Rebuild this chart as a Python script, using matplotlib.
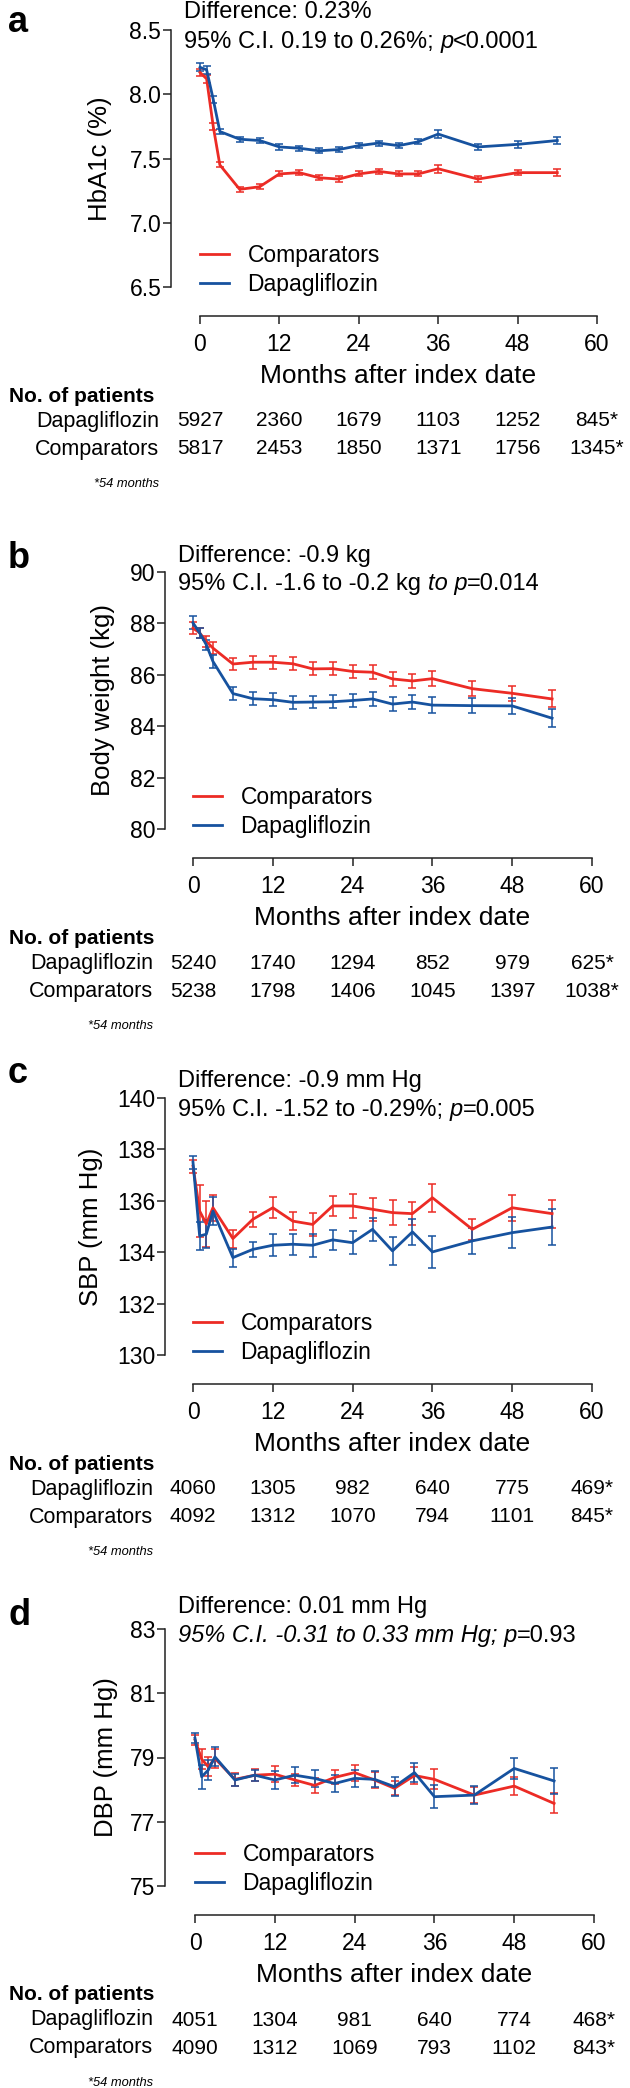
import matplotlib
matplotlib.use('Agg')
import matplotlib.pyplot as plt

plt.rcParams['font.family'] = ['Liberation Sans', 'DejaVu Sans']

months = [0, 1, 2, 3, 6, 9, 12, 15, 18, 21, 24, 27, 30, 33, 36, 42, 48, 54]
table_months = [0, 12, 24, 36, 48, 60]

# a: HbA1c
hba1c_comp = [8.17, 8.12, 7.75, 7.45, 7.26, 7.28, 7.38, 7.39, 7.35, 7.34, 7.38, 7.40, 7.38, 7.38, 7.42, 7.34, 7.39, 7.39]
hba1c_comp_err = [0.03, 0.03, 0.03, 0.02, 0.02, 0.02, 0.02, 0.02, 0.02, 0.02, 0.02, 0.02, 0.02, 0.02, 0.03, 0.02, 0.02, 0.03]
hba1c_dapa = [8.21, 8.19, 7.96, 7.71, 7.65, 7.64, 7.59, 7.58, 7.56, 7.57, 7.60, 7.62, 7.60, 7.63, 7.69, 7.59, 7.61, 7.64]
hba1c_dapa_err = [0.03, 0.03, 0.03, 0.02, 0.02, 0.02, 0.02, 0.02, 0.02, 0.02, 0.02, 0.02, 0.02, 0.02, 0.03, 0.02, 0.03, 0.03]
hba1c_n_dapa = ['5927', '2360', '1679', '1103', '1252', '845*']
hba1c_n_comp = ['5817', '2453', '1850', '1371', '1756', '1345*']

# b: body weight
weight_comp = [87.82, 87.63, 87.30, 87.04, 86.42, 86.49, 86.49, 86.43, 86.23, 86.24, 86.13, 86.10, 85.84, 85.76, 85.85, 85.46, 85.28, 85.06]
weight_comp_err = [0.25, 0.2, 0.2, 0.22, 0.25, 0.25, 0.25, 0.25, 0.25, 0.25, 0.27, 0.27, 0.28, 0.28, 0.28, 0.3, 0.3, 0.33]
weight_dapa = [88.02, 87.63, 87.17, 86.52, 85.27, 85.07, 85.03, 84.93, 84.94, 84.95, 85.00, 85.06, 84.86, 84.94, 84.82, 84.80, 84.79, 84.31]
weight_dapa_err = [0.25, 0.2, 0.2, 0.25, 0.25, 0.25, 0.25, 0.25, 0.25, 0.26, 0.27, 0.27, 0.28, 0.29, 0.3, 0.3, 0.3, 0.35]
weight_n_dapa = ['5240', '1740', '1294', '852', '979', '625*']
weight_n_comp = ['5238', '1798', '1406', '1045', '1397', '1038*']

# c: SBP
sbp_comp = [137.35, 135.6, 135.1, 135.73, 134.53, 135.28, 135.73, 135.21, 135.08, 135.8, 135.8, 135.67, 135.54, 135.5, 136.12, 134.89, 135.73, 135.5]
sbp_comp_err = [0.25, 1.0, 0.9, 0.5, 0.35, 0.3, 0.4, 0.35, 0.45, 0.4, 0.45, 0.45, 0.5, 0.45, 0.55, 0.4, 0.5, 0.55]
sbp_dapa = [137.5, 134.63, 134.7, 135.6, 133.79, 134.11, 134.27, 134.31, 134.27, 134.48, 134.37, 134.89, 134.05, 134.79, 134.01, 134.44, 134.76, 134.98]
sbp_dapa_err = [0.25, 0.55, 0.55, 0.55, 0.35, 0.3, 0.42, 0.4, 0.45, 0.4, 0.45, 0.45, 0.55, 0.5, 0.63, 0.5, 0.6, 0.7]
sbp_n_dapa = ['4060', '1305', '982', '640', '775', '469*']
sbp_n_comp = ['4092', '1312', '1070', '794', '1101', '845*']

# d: DBP
dbp_comp = [79.55, 78.95, 78.71, 78.97, 78.32, 78.45, 78.48, 78.3, 78.13, 78.38, 78.53, 78.3, 78.04, 78.44, 78.32, 77.83, 78.11, 77.57]
dbp_comp_err = [0.15, 0.3, 0.3, 0.3, 0.2, 0.18, 0.25, 0.2, 0.22, 0.22, 0.25, 0.25, 0.22, 0.25, 0.31, 0.25, 0.28, 0.31]
dbp_dapa = [79.6, 78.4, 78.61, 79.02, 78.3, 78.45, 78.3, 78.45, 78.35, 78.19, 78.35, 78.32, 78.09, 78.53, 77.78, 77.83, 78.66, 78.27]
dbp_dapa_err = [0.15, 0.37, 0.3, 0.3, 0.2, 0.17, 0.27, 0.25, 0.27, 0.25, 0.27, 0.25, 0.3, 0.3, 0.35, 0.27, 0.34, 0.4]
dbp_n_dapa = ['4051', '1304', '981', '640', '774', '468*']
dbp_n_comp = ['4090', '1312', '1069', '793', '1102', '843*']

RED = '#ec2b25'
BLUE = '#16529f'
W, H = 630, 2088
AX_H = 257

fig = plt.figure(figsize=(6.3, 20.88), dpi=100)


def fx(px):
    return px / W


def fy(py):
    return 1 - py / H


def rich_text(x, y, parts, size):
    # draw text pieces one after another so some of them can be italic
    renderer = fig.canvas.get_renderer()
    for s, style in parts:
        t = fig.text(fx(x), fy(y), s, style=style, fontsize=size, ha='left', va='baseline')
        x += t.get_window_extent(renderer).width


def draw_panel(letter, letter_y, top, spine_x, x0_px, x60_px, ylabel_x, yticks, yfmt, ylabel,
               comp, comp_err, dapa, dapa_err, line1, line2, text_y, n_dapa, n_comp):
    bottom = top + AX_H
    pxpm = (x60_px - x0_px) / 60
    xlo = -(x0_px - spine_x) / pxpm
    xhi = 60.6
    right = x0_px + xhi * pxpm
    ax = fig.add_axes([fx(spine_x), fy(bottom), (right - spine_x) / W, AX_H / H])

    c_comp = ax.errorbar(months, comp, yerr=comp_err, color=RED, lw=2.0,
                         elinewidth=1.1, capsize=2.6, capthick=1.1)
    c_dapa = ax.errorbar(months, dapa, yerr=dapa_err, color=BLUE, lw=2.0,
                         elinewidth=1.1, capsize=2.6, capthick=1.1)

    ax.set_xlim(xlo, xhi)
    ax.set_ylim(yticks[0], yticks[-1])
    ax.set_xticks(table_months)
    ax.set_yticks(yticks)
    ax.set_yticklabels([yfmt % v for v in yticks])
    for s in ['top', 'right']:
        ax.spines[s].set_visible(False)
    ax.spines['bottom'].set_bounds(0, 60)
    ax.spines['bottom'].set_position(('outward', 29 * 0.72))
    for s in ['left', 'bottom']:
        ax.spines[s].set_linewidth(1.1)
        ax.spines[s].set_color('#222222')
    ax.tick_params(axis='both', direction='out', length=5.5, width=1.1, colors='#222222',
                   labelcolor='black', labelsize=16.5)
    ax.tick_params(axis='y', pad=1.5)
    ax.tick_params(axis='x', pad=6.5)
    ax.patch.set_visible(False)

    ax.legend([c_comp.lines[0], c_dapa.lines[0]], ['Comparators', 'Dapagliflozin'],
              loc='lower left', bbox_to_anchor=((x0_px - spine_x) / (right - spine_x), -9 / AX_H),
              frameon=False, fontsize=16.5, borderpad=0, borderaxespad=0,
              handlelength=1.27, handletextpad=0.8, labelspacing=0.25)

    fig.text(fx(ylabel_x), fy(top + AX_H / 2), ylabel, rotation=90,
             ha='center', va='center', fontsize=18.5)
    fig.text(fx(8), fy(letter_y), letter, fontsize=26, weight='bold', ha='left', va='baseline')

    rich_text(spine_x + 13, text_y[0], line1, 17)
    rich_text(spine_x + 13, text_y[1], line2, 17)

    tr = ax.get_xaxis_transform()
    ax.text(30, -89 / AX_H, 'Months after index date', transform=tr,
            ha='center', va='center', fontsize=19)
    fig.text(fx(9), fy(bottom + 109), 'No. of patients', weight='bold',
             ha='left', va='center', fontsize=15)
    fig.text(fx(spine_x - 12), fy(bottom + 134), 'Dapagliflozin', ha='right', va='center', fontsize=15.5)
    fig.text(fx(spine_x - 12), fy(bottom + 162), 'Comparators', ha='right', va='center', fontsize=15.5)
    for m, nd, nc in zip(table_months, n_dapa, n_comp):
        ax.text(m, -134 / AX_H, nd, transform=tr, ha='center', va='center', fontsize=15, clip_on=False)
        ax.text(m, -162 / AX_H, nc, transform=tr, ha='center', va='center', fontsize=15, clip_on=False)
    fig.text(fx(spine_x - 12), fy(bottom + 197), '*54 months', style='italic',
             ha='right', va='center', fontsize=9.3)
    return ax


draw_panel('a', 32, 30, 171, 200, 597, 100, [6.5, 7.0, 7.5, 8.0, 8.5], '%.1f', 'HbA1c (%)',
           hba1c_comp, hba1c_comp_err, hba1c_dapa, hba1c_dapa_err,
           [('Difference: 0.23%', 'normal')],
           [('95% C.I. 0.19 to 0.26%; ', 'normal'), ('p', 'italic'), ('<0.0001', 'normal')],
           (18, 48), hba1c_n_dapa, hba1c_n_comp)

draw_panel('b', 568, 572, 165, 193, 592, 103, [80, 82, 84, 86, 88, 90], '%d', 'Body weight (kg)',
           weight_comp, weight_comp_err, weight_dapa, weight_dapa_err,
           [('Difference: -0.9 kg', 'normal')],
           [('95% C.I. -1.6 to -0.2 kg ', 'normal'), ('to p', 'italic'), ('=0.014', 'normal')],
           (562, 590), weight_n_dapa, weight_n_comp)

draw_panel('c', 1083, 1098, 165, 193, 592, 91, [130, 132, 134, 136, 138, 140], '%d', 'SBP (mm Hg)',
           sbp_comp, sbp_comp_err, sbp_dapa, sbp_dapa_err,
           [('Difference: -0.9 mm Hg', 'normal')],
           [('95% C.I. -1.52 to -0.29%; ', 'normal'), ('p', 'italic'), ('=0.005', 'normal')],
           (1087, 1116), sbp_n_dapa, sbp_n_comp)

draw_panel('d', 1625, 1629, 165, 195, 594, 106, [75, 77, 79, 81, 83], '%d', 'DBP (mm Hg)',
           dbp_comp, dbp_comp_err, dbp_dapa, dbp_dapa_err,
           [('Difference: 0.01 mm Hg', 'normal')],
           [('95% C.I. -0.31 to 0.33 mm Hg; p', 'italic'), ('=0.93', 'normal')],
           (1613, 1642), dbp_n_dapa, dbp_n_comp)

fig.savefig('out.png', dpi=100)
